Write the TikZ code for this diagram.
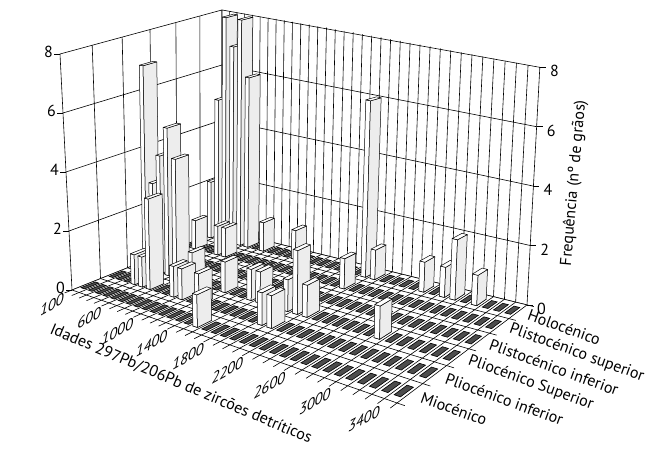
\documentclass[tikz,border=0pt]{standalone}
\usepackage{fontspec}
\setmainfont{PT Sans}

% screen point of age position #2 (0..34), era position #3 (0..6), count #4
\newcommand{\gridpt}[4]{%
  \pgfmathsetmacro{\pS}{(#2)/34}%
  \pgfmathsetmacro{\pT}{(#3)/6}%
  \pgfmathsetmacro{\pW}{1-0.2545*\pS+0.1741*\pT}%
  \pgfmathsetmacro{\pZ}{29.5*(1-\pS)*(1-\pT)+37*\pS*(1-\pT)+29.7*\pS*\pT+27.5*(1-\pS)*\pT}%
  \pgfmathsetmacro{\pK}{-1.5*(1-\pS)*(1-\pT)*(1-\pT)+0.5*\pS*(1-\pT)+1.6*\pS*\pT}%
  \pgfmathsetmacro{\pX}{(224*\pS+188.65*\pT+72)/\pW+\pK*(#4)}%
  \pgfmathsetmacro{\pY}{(10.4*\pS-20*\pT+290)/\pW-\pZ*(#4)}%
  \coordinate (#1) at (\pX,-\pY);%
}
% one bar: age bin #1, era row #2, count #3
\newcommand{\grainbar}[3]{%
  \gridpt{b1}{#1-0.75}{#2+0.25}{0}\gridpt{b2}{#1-0.25}{#2+0.25}{0}\gridpt{b3}{#1-0.25}{#2+0.75}{0}%
  \gridpt{t1}{#1-0.75}{#2+0.25}{#3}\gridpt{t2}{#1-0.25}{#2+0.25}{#3}%
  \gridpt{t3}{#1-0.25}{#2+0.75}{#3}\gridpt{t4}{#1-0.75}{#2+0.75}{#3}%
  \path[frontface] (b1) -- (b2) -- (t2) -- (t1) -- cycle;
  \path[sideface] (b2) -- (b3) -- (t3) -- (t2) -- cycle;
  \path[topface] (t1) -- (t2) -- (t3) -- (t4) -- cycle;
}

\begin{document}
\begin{tikzpicture}[x=1pt,y=1pt]
  \tikzstyle{wall}=[draw=black, fill=white, line width=0.6pt, line join=round]
  \tikzstyle{grid}=[draw=black, line width=0.6pt]
  \tikzstyle{floorbar}=[draw=black, fill=black!70, line width=0.6pt]
  \tikzstyle{frontface}=[draw=black, fill=white, line width=0.5pt, line join=round]
  \tikzstyle{sideface}=[draw=black, fill=black!7, line width=0.5pt, line join=round]
  \tikzstyle{topface}=[draw=black, fill=white, line width=0.5pt, line join=round]
  \tikzstyle{axnum}=[font=\fontsize{16}{18}\selectfont, inner sep=1pt]
  \tikzstyle{agelabel}=[font=\fontsize{15}{18}\selectfont\itshape, anchor=east, yslant=0.55, inner sep=1pt]
  \tikzstyle{eralabel}=[font=\fontsize{16}{18}\selectfont, anchor=west, rotate=-20, inner sep=1pt]
  \tikzstyle{title}=[font=\fontsize{16}{18}\selectfont]
  \useasboundingbox (0,0) rectangle (649,-448);

  % walls
  \gridpt{o}{0}{0}{0}\gridpt{ot}{0}{0}{8}\gridpt{b}{0}{6}{0}\gridpt{bt}{0}{6}{8}
  \gridpt{r}{34}{6}{0}\gridpt{rt}{34}{6}{8}\gridpt{f}{34}{0}{0}
  \path[wall] (o) -- (b) -- (bt) -- (ot) -- cycle;
  \path[wall] (b) -- (r) -- (rt) -- (bt) -- cycle;
  \foreach \v in {1,...,5} {\gridpt{p}{0}{\v}{0}\gridpt{q}{0}{\v}{8}\draw[grid] (p) -- (q);}
  \foreach \u in {1,...,33} {\gridpt{p}{\u}{6}{0}\gridpt{q}{\u}{6}{8}\draw[grid] (p) -- (q);}
  \foreach \z in {2,4,6} {\gridpt{p}{0}{0}{\z}\gridpt{q}{0}{6}{\z}\gridpt{w}{34}{6}{\z}\draw[grid] (p) -- (q) -- (w);}

  % floor
  \path[wall] (o) -- (f) -- (r) -- (b) -- cycle;
  \foreach \u in {1,...,33} {\gridpt{p}{\u}{0}{0}\gridpt{q}{\u}{6}{0}\draw[grid] (p) -- (q);}
  \foreach \v in {1,...,5} {\gridpt{p}{0}{\v}{0}\gridpt{q}{34}{\v}{0}\draw[grid] (p) -- (q);}
  \foreach \k in {1,...,34} {
    \foreach \j in {0,...,5} {
      \gridpt{c1}{\k-0.75}{\j+0.25}{0}\gridpt{c2}{\k-0.25}{\j+0.25}{0}
      \gridpt{c3}{\k-0.25}{\j+0.75}{0}\gridpt{c4}{\k-0.75}{\j+0.75}{0}
      \path[floorbar] (c1) -- (c2) -- (c3) -- (c4) -- cycle;
    }
  }
  \foreach \u in {0,...,34} {\gridpt{p}{\u}{0}{0}\gridpt{q}{\u}{-0.25}{0}\draw[grid] (p) -- (q);}
  \foreach \v in {0,...,6} {\gridpt{p}{34}{\v}{0}\gridpt{q}{34.6}{\v}{0}\draw[grid] (p) -- (q);}

  % bars, back row first
  \foreach \k/\j/\h in {1/5/2, 2/5/5, 3/5/8, 4/5/7, 5/5/8, 6/5/6, 8/5/1, 12/5/1, 20/5/6, 21/5/1,
      26/5/1, 28/5/1, 29/5/2, 31/5/1,
      2/4/1, 5/4/1, 6/4/1, 20/4/1,
      2/2/7, 3/2/3, 4/2/4, 5/2/5, 6/2/4, 8/2/1, 12/2/1, 15/2/1, 16/2/1, 19/2/1, 20/2/2, 21/2/1, 28/2/1,
      4/1/1, 5/1/1, 6/1/3, 9/1/1, 10/1/1, 12/1/1, 19/1/1, 20/1/1,
      15/0/1} {
    \grainbar{\k}{\j}{\h}
  }

  % frequency axes
  \foreach \z in {0,2,4,6,8} {
    \gridpt{lz}{0}{0}{\z}
    \draw[grid] (lz) -- ++(-6,0) coordinate (lt\z);
    \node[axnum, anchor=east] (lnum\z) at ([yshift=2]lt\z) {\z};
    \gridpt{rz}{34}{6}{\z}
    \draw[grid] (rz) -- ++(6,0) coordinate (rt\z);
    \node[axnum, anchor=west] (rnum\z) at ([xshift=3,yshift=-4]rt\z) {\z};
  }

  % age labels
  \foreach \k/\a in {1/100, 6/600, 10/1000, 14/1400, 18/1800, 22/2200, 26/2600, 30/3000, 34/3400} {
    \gridpt{g\k}{\k-0.5}{-0.3}{0}
    \node[agelabel] (age\k) at ([xshift=-2,yshift=-3]g\k) {\a};
  }

  % era labels
  \foreach \j/\e in {0/Miocénico, 1/Pliocénico inferior, 2/Pliocénico Superior,
      3/Plistocénico inferior, 4/Plistocénico superior, 5/Holocénico} {
    \gridpt{e\j}{34.8}{\j+0.5}{0}
    \node[eralabel] (era\j) at (e\j) {\e};
  }

  \node[title, rotate=-23] (agetitle) at (181,-384) {Idades 297Pb/206Pb de zircões detríticos};
  \node[title, rotate=85] (freqtitle) at (574,-183) {Frequência (nº de grãos)};
\end{tikzpicture}
\end{document}
